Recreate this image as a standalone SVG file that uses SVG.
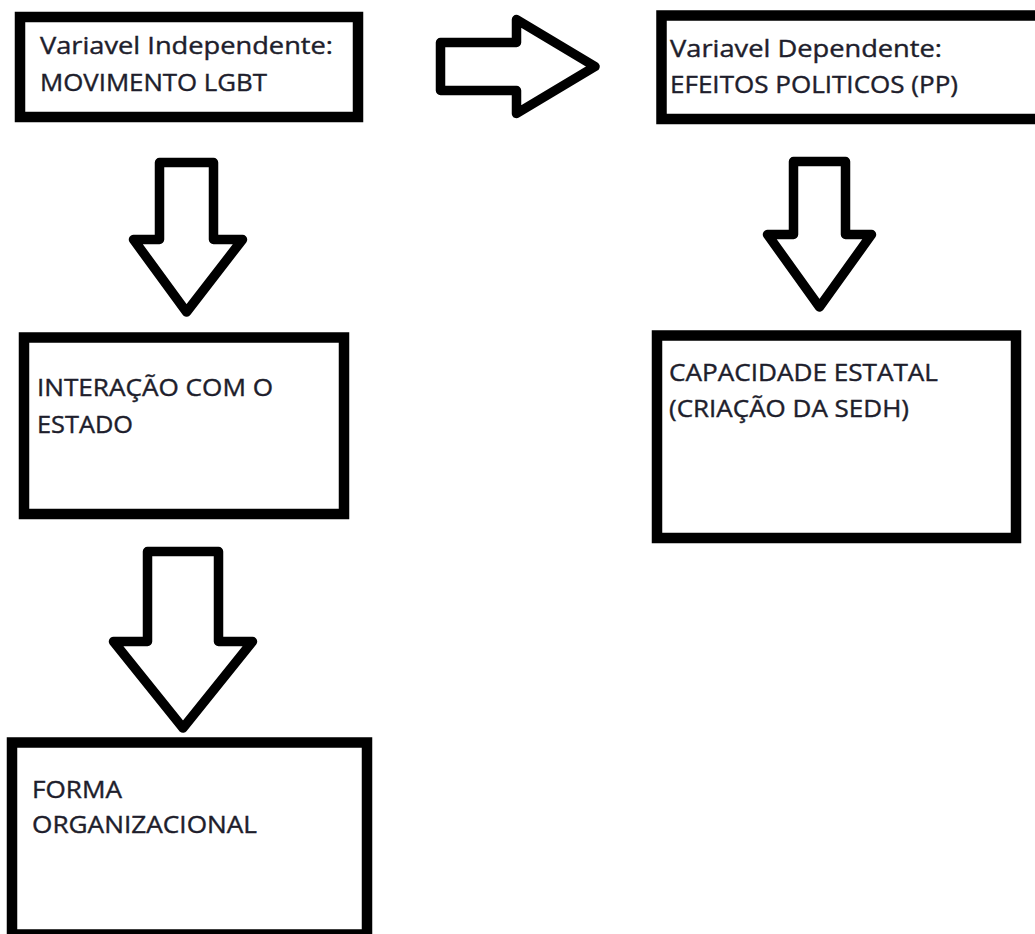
<svg xmlns="http://www.w3.org/2000/svg" width="1035" height="934" viewBox="0 0 1035 934">
<style>
.box{fill:#fff;stroke:#000;stroke-width:10.5}
.arr{fill:#fff;stroke:#000;stroke-width:9.5;stroke-linejoin:round}
.t{font-family:"Open Sans","Liberation Sans",sans-serif;font-size:24.5px;fill:#1e1e2c;stroke:#1e1e2c;stroke-width:0.4}
</style>
<rect width="1035" height="934" fill="#fff"/>
<g id="connectors">
<polygon class="arr" points="440.5,42.5 516.5,42.5 516.5,19.5 595,66.5 516.5,113.5 516.5,90.5 440.5,90.5"/>
<polygon class="arr" points="159.5,162.5 213.5,162.5 213.5,239.5 242.5,239.5 186.5,312 133.5,239.5 159.5,239.5"/>
<polygon class="arr" points="793.5,161.5 845.5,161.5 845.5,234.5 871.5,234.5 819.5,307 767.5,234.5 793.5,234.5"/>
<polygon class="arr" points="147.5,551.5 218.5,551.5 218.5,641.5 252.5,641.5 183,728 113.5,641.5 147.5,641.5"/>
</g>
<g id="node-independente">
<rect class="box" x="20" y="17" width="338" height="100"/>
<text class="t" x="40" y="54" textLength="293" lengthAdjust="spacingAndGlyphs">Variavel Independente:</text>
<text class="t" x="40" y="91" textLength="227" lengthAdjust="spacingAndGlyphs">MOVIMENTO LGBT</text>
</g>
<g id="node-dependente">
<rect class="box" x="661.5" y="15.5" width="400" height="103.5"/>
<text class="t" x="670" y="57" textLength="272" lengthAdjust="spacingAndGlyphs">Variavel Dependente:</text>
<text class="t" x="670" y="93" textLength="288" lengthAdjust="spacingAndGlyphs">EFEITOS POLITICOS (PP)</text>
</g>
<g id="node-interacao">
<rect class="box" x="24" y="337.5" width="320" height="176.5"/>
<text class="t" x="37" y="396" textLength="236" lengthAdjust="spacingAndGlyphs">INTERAÇÃO COM O</text>
<text class="t" x="37" y="433" textLength="96" lengthAdjust="spacingAndGlyphs">ESTADO</text>
</g>
<g id="node-capacidade">
<rect class="box" x="657" y="335.5" width="359" height="202.5"/>
<text class="t" x="669" y="381" textLength="269" lengthAdjust="spacingAndGlyphs">CAPACIDADE ESTATAL</text>
<text class="t" x="669" y="417" textLength="240" lengthAdjust="spacingAndGlyphs">(CRIAÇÃO DA SEDH)</text>
</g>
<g id="node-forma">
<rect class="box" x="12" y="742.5" width="355" height="192"/>
<text class="t" x="32" y="798" textLength="90" lengthAdjust="spacingAndGlyphs">FORMA</text>
<text class="t" x="32" y="833" textLength="225" lengthAdjust="spacingAndGlyphs">ORGANIZACIONAL</text>
</g>
</svg>
